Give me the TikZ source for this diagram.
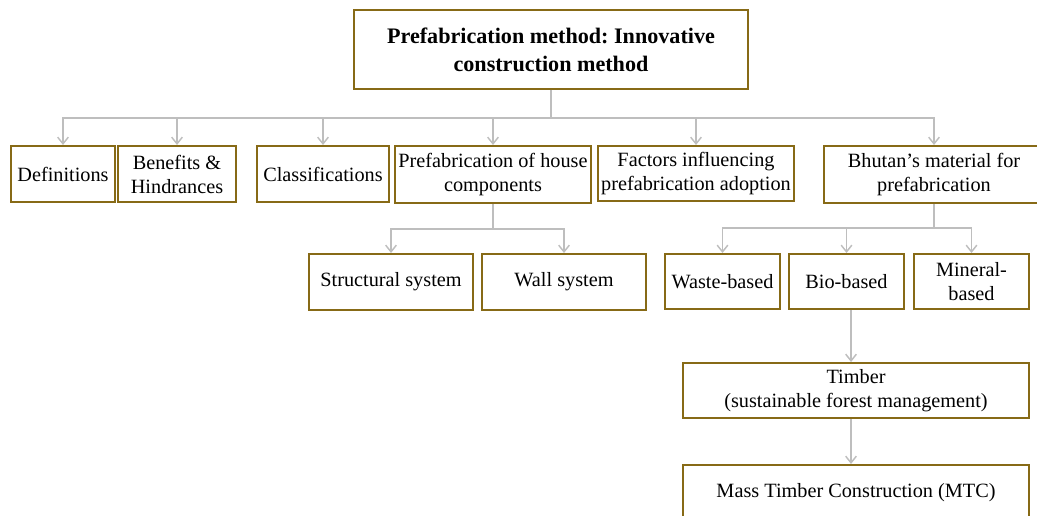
\documentclass[tikz,border=0pt]{standalone}
\usepackage{fontspec}
\setmainfont{Liberation Serif}
\usetikzlibrary{arrows.meta}
\definecolor{boxline}{RGB}{135,106,22}
\definecolor{linkgray}{RGB}{190,190,190}
\frenchspacing
\begin{document}
\begin{tikzpicture}[x=0.75pt,y=-0.75pt,
  box/.style={draw=boxline,line width=1.5pt,fill=white,align=center,
    inner sep=0pt,font=\fontsize{15.2}{18}\selectfont},
  sz/.style 2 args={minimum width=#1*0.75pt,minimum height=#2*0.75pt},
  link/.style={draw=linkgray,line width=1.1pt},
  arr/.style={link,-{Straight Barb[length=5pt,width=8pt]}}]
\useasboundingbox (0,0) rectangle (1037,516);
\clip (0,0) rectangle (1037,516);

% root
\node[box,sz={394}{79},font=\bfseries\fontsize{16.6}{21}\selectfont]
  (root) at (551,49.5) {Prefabrication method: Innovative\\construction method};

% first level
\node[box,sz={104}{56}] (def) at (63,174) {Definitions};
\node[box,sz={118}{56}] (ben) at (177,174) {Benefits \&\\Hindrances};
\node[box,sz={132}{56}] (cls) at (323,174) {Classifications};
\node[box,sz={196}{57}] (house) at (493,174.5) {Prefabrication of house\\components};
\node[box,sz={196}{55}] (fac) at (696,173.5) {Factors influencing\\prefabrication adoption};
\node[box,sz={220}{57}] (bhu) at (934,174.5) {Bhutan’s material for\\prefabrication};

% house components
\node[box,sz={164}{56}] (str) at (391,282) {Structural system};
\node[box,sz={164}{56}] (wall) at (564,282) {Wall system};

% material groups
\node[box,sz={115}{55}] (waste) at (722.5,281.5) {Waste-based};
\node[box,sz={115}{55}] (bio) at (846.5,281.5) {Bio-based};
\node[box,sz={115}{55}] (min) at (971.5,281.5) {Mineral-\\based};

% timber chain
\node[box,sz={346}{55}] (timber) at (856,390.5) {Timber\\(sustainable forest management)};
\node[box,sz={346}{56}] (mtc) at (856,493) {Mass Timber Construction (MTC)};

% branching points
\coordinate (j0) at (root.south |- 0,118);
\coordinate (j1) at (house.south |- 0,229);
\coordinate (j2) at (bhu.south |- 0,228);

\draw[link] (root.south) -- (j0);
\foreach \n in {def,ben,cls,house,fac,bhu}
  \draw[arr] (j0) -| (\n.north);

\draw[link] (house.south) -- (j1);
\foreach \n in {str,wall}
  \draw[arr] (j1) -| (\n.north);

\draw[link] (bhu.south) -- (j2);
\foreach \n in {waste,bio,min}
  \draw[arr] (j2) -| (\n.north);

\draw[arr] ([xshift=3.4pt]bio.south) -- ([xshift=3.4pt]bio.south |- timber.north);
\draw[arr] ([xshift=-3.75pt]timber.south) -- ([xshift=-3.75pt]timber.south |- mtc.north);
\end{tikzpicture}
\end{document}
